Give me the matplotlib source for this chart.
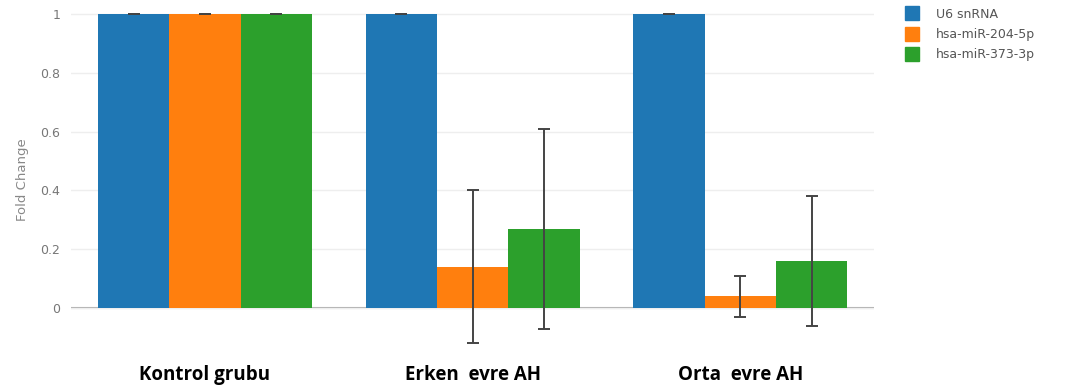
import matplotlib.pyplot as plt
import numpy as np
from matplotlib.lines import Line2D

# Veriler
groups = ['Kontrol grubu', 'Erken  evre AH', 'Orta  evre AH']
series = ['U6 snRNA', 'hsa-miR-204-5p', 'hsa-miR-373-3p']
u6 = [1.0, 1.0, 1.0]
mir204 = [1.0, 0.14, 0.04]
mir373 = [1.0, 0.27, 0.16]
u6_err = [0.0, 0.0, 0.0]
mir204_err = [0.0, 0.26, 0.07]
mir373_err = [0.0, 0.34, 0.22]
colors = ['#1f77b4', '#ff7f0e', '#2ca02c']

values = [u6, mir204, mir373]
errors = [u6_err, mir204_err, mir373_err]

fig = plt.figure(figsize=(10.69, 3.92), dpi=100)
ax = fig.add_axes([71.25 / 1069, 44 / 392, (874 - 71.25) / 1069, 336 / 392])

x = np.arange(len(groups))
w = 0.8 / 3
for i, (vals, errs) in enumerate(zip(values, errors)):
    ax.bar(x + (i - 1) * w, vals, width=w, color=colors[i], label=series[i], zorder=2)
    ax.errorbar(x + (i - 1) * w, vals, yerr=errs, fmt='none', ecolor='#444444',
                elinewidth=1.4, capsize=4.5, capthick=1.4, zorder=3)

ax.set_xlim(-0.5, 2.5)
ax.set_ylim(-0.136, 1.007)
ax.set_yticks([0, 0.2, 0.4, 0.6, 0.8, 1])
ax.set_yticklabels(['0', '0.2', '0.4', '0.6', '0.8', '1'])
ax.grid(axis='y', color='#eeeeee', linewidth=1, zorder=0)
ax.axhline(0, color='#aaaaaa', linewidth=1.5, zorder=1)
for s in ax.spines.values():
    s.set_visible(False)
ax.tick_params(axis='y', length=0, labelsize=9, labelcolor='#777777', pad=8)
ax.set_ylabel('Fold Change', fontsize=9.5, color='#888888', labelpad=8)

ax.set_xticks(x)
ax.set_xticklabels(groups, fontsize=13.5, fontweight='bold', family='Open Sans')
ax.tick_params(axis='x', length=0, pad=12)

handles = [Line2D([], [], marker='s', linestyle='none', markersize=10,
                  markerfacecolor=c, markeredgecolor=c) for c in colors]
fig.legend(handles, series, loc='upper left', bbox_to_anchor=(893 / 1069, 1.009),
           frameon=False, fontsize=9, labelcolor='#555555', handletextpad=1.35,
           labelspacing=0.58, handlelength=1.2)

fig.savefig('out.png', dpi=100)
